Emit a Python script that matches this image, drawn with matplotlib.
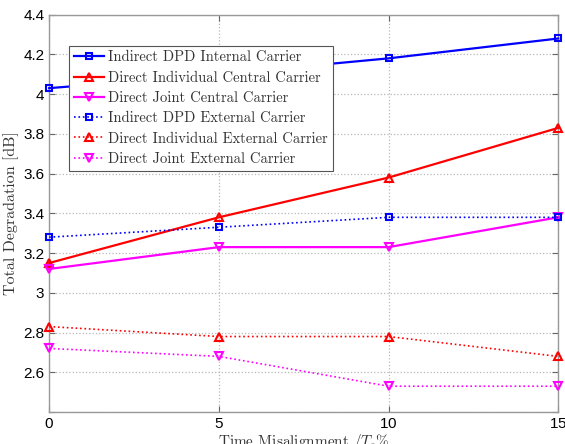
import matplotlib
matplotlib.use('Agg')
import matplotlib.pyplot as plt

plt.rcParams['mathtext.fontset'] = 'cm'
plt.rcParams['axes.formatter.use_mathtext'] = True

# Time misalignment (% of Ts)
misalignment = [0, 5, 10, 15]

# Total degradation [dB]
indirect_internal = [4.03, 4.10, 4.18, 4.28]
individual_central = [3.15, 3.38, 3.58, 3.83]
joint_central = [3.12, 3.23, 3.23, 3.38]
indirect_external = [3.28, 3.33, 3.38, 3.38]
individual_external = [2.83, 2.78, 2.78, 2.68]
joint_external = [2.72, 2.68, 2.53, 2.53]

y_ticks = [2.4, 2.6, 2.8, 3.0, 3.2, 3.4, 3.6, 3.8, 4.0, 4.2, 4.4]
y_tick_labels = ['', '2.6', '2.8', '3', '3.2', '3.4', '3.6', '3.8', '4', '4.2', '4.4']
x_ticks = [0, 5, 10, 15]

series = [
    ('Indirect DPD Internal Carrier', indirect_internal, 'blue', '-', 's'),
    ('Direct Individual Central Carrier', individual_central, 'red', '-', '^'),
    ('Direct Joint Central Carrier', joint_central, 'magenta', '-', 'v'),
    ('Indirect DPD External Carrier', indirect_external, 'blue', ':', 's'),
    ('Direct Individual External Carrier', individual_external, 'red', ':', '^'),
    ('Direct Joint External Carrier', joint_external, 'magenta', ':', 'v'),
]

fig = plt.figure(figsize=(5.65, 4.44), dpi=100)
ax = fig.add_axes([0.087, 0.072, 0.901, 0.895])

for label, values, color, ls, marker in series:
    ax.plot(misalignment, values, linestyle=ls, color=color, marker=marker,
            markersize=6 if marker != 's' else 5, markerfacecolor='none',
            markeredgewidth=1.5, linewidth=1.6 if ls == '-' else 1.2,
            label=label, clip_on=False, zorder=3)

ax.set_xlim(0, 15)
ax.set_ylim(2.4, 4.4)
ax.set_xticks(x_ticks)
ax.set_yticks(y_ticks)
ax.set_yticklabels(y_tick_labels)
ax.grid(True, linestyle=':', color='#b8b8b8', linewidth=0.9)
ax.tick_params(direction='in', top=True, right=True, labelsize=11,
               color='#666666', length=4)
for t in ax.get_xticklabels() + ax.get_yticklabels():
    t.set_family('Liberation Sans')
for spine in ax.spines.values():
    spine.set_color('#999999')
    spine.set_linewidth(1.0)

ax.set_xlabel('Time Misalignment $/T_s\\%$', family='cmr10', fontsize=11,
              color='#333333', labelpad=1)
ax.set_ylabel('Total Degradation [dB]', family='cmr10', fontsize=11.5,
              color='#333333', labelpad=3)

leg = ax.legend(loc='upper left', bbox_to_anchor=(0.039, 0.922),
                prop={'family': 'cmr10', 'size': 10.5}, fancybox=False,
                framealpha=1, edgecolor='#555555', borderpad=0.35,
                labelspacing=0.45, handlelength=2.05, handletextpad=0.27,
                borderaxespad=0)
leg.get_frame().set_linewidth(0.8)
for t in leg.get_texts():
    t.set_color('#333333')

fig.savefig('out.png', dpi=100, facecolor='white')
